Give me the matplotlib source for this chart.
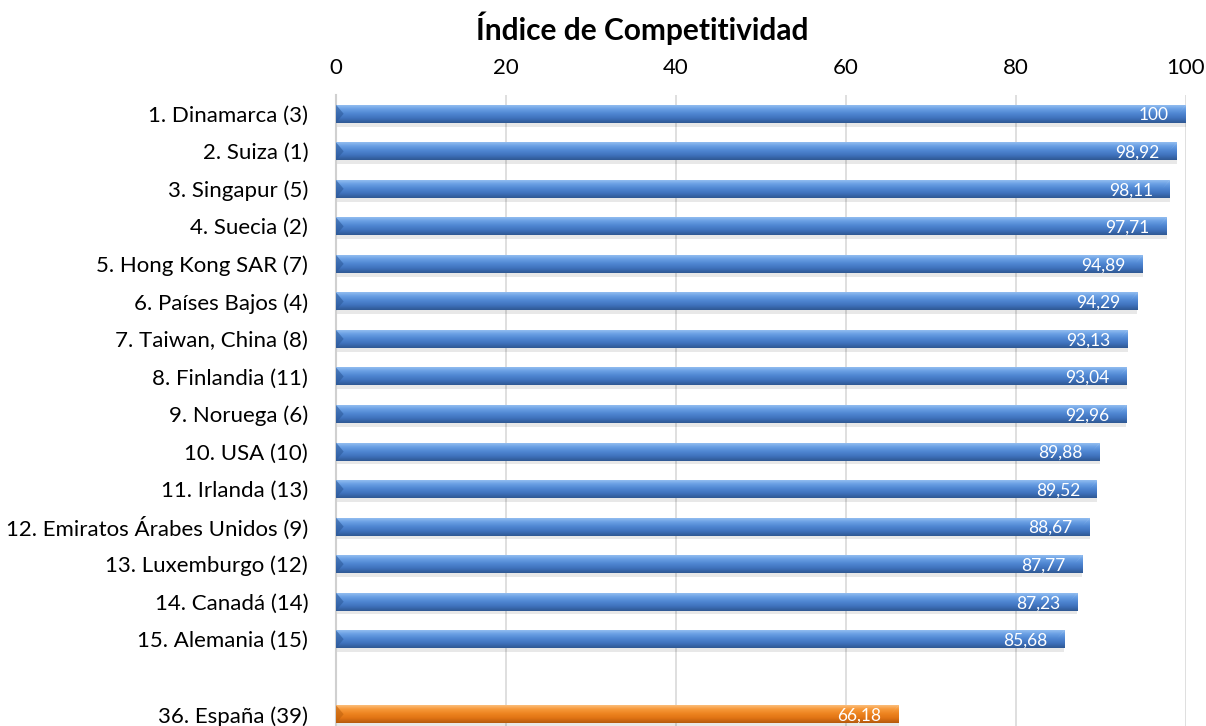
import numpy as np
import matplotlib
matplotlib.use("Agg")
from matplotlib import pyplot as plt
from matplotlib.colors import LinearSegmentedColormap

plt.rcParams['font.family'] = ['Lato', 'DejaVu Sans']

countries = ["1. Dinamarca (3)", "2. Suiza (1)", "3. Singapur (5)", "4. Suecia (2)",
             "5. Hong Kong SAR (7)", "6. Países Bajos (4)", "7. Taiwan, China (8)",
             "8. Finlandia (11)", "9. Noruega (6)", "10. USA (10)", "11. Irlanda (13)",
             "12. Emiratos Árabes Unidos (9)", "13. Luxemburgo (12)", "14. Canadá (14)",
             "15. Alemania (15)", "36. España (39)"]
scores = [100, 98.92, 98.11, 97.71, 94.89, 94.29, 93.13, 93.04, 92.96, 89.88,
          89.52, 88.67, 87.77, 87.23, 85.68, 66.18]
highlight = "36. España (39)"

# one empty slot before the highlighted country
slots = list(range(len(countries) - 1)) + [len(countries)]

blue = LinearSegmentedColormap.from_list("b", ["#9cc4f2", "#6aa0e4", "#4f86d2", "#3f72bc", "#2f5893"])
orange = LinearSegmentedColormap.from_list("o", ["#fcc68a", "#f79a3c", "#ee8420", "#e07314", "#b45a0c"])

fig = plt.figure(figsize=(12.06, 7.26), dpi=100)
ax = fig.add_axes([336 / 1206, -7 / 726, 850 / 1206, 638 / 726])

h = 0.48
grad = np.linspace(0, 1, 64).reshape(-1, 1)
for name, val, y in zip(countries, scores, slots):
    cmap = orange if name == highlight else blue
    # soft shadow under the bar
    ax.barh(y + 0.1, val, height=h, color="#000000", alpha=0.09, zorder=2, linewidth=0)
    bar = ax.barh(y, val, height=h, color="none", zorder=3, linewidth=0)[0]
    im = ax.imshow(grad, cmap=cmap, aspect="auto", extent=(0, val, y + h / 2, y - h / 2),
                   zorder=3, interpolation="bilinear")
    im.set_clip_path(bar)
    # bevel ends
    ax.fill([0, 0.9, 0], [y - h / 2, y, y + h / 2], color="#2d5a9a" if cmap is blue else "#c0620e",
            alpha=0.6, zorder=4, linewidth=0)
    ax.fill([val, val - 0.9, val], [y - h / 2, y, y - h / 2 + 0.01],
            color="#c8ddf7" if cmap is blue else "#fcd9b0", alpha=0.6, zorder=4, linewidth=0)
    ax.text(val - 2.0, y + 0.04, f"{val:g}".replace('.', ','), color="white",
            ha="right", va="center", fontsize=12.5, zorder=5)

ax.set_xlim(0, 100)
ax.set_ylim(len(countries) + 0.5, -0.5)
ax.set_xticks(range(0, 101, 20))
ax.xaxis.tick_top()
ax.tick_params(axis="x", length=0, labelsize=16, pad=12, colors="#000000")
ax.set_yticks(slots)
ax.set_yticklabels(countries)
ax.tick_params(axis="y", length=0, labelsize=16, pad=20)
ax.grid(axis="x", color="#d9d9d9", linewidth=1.2, zorder=0)
ax.set_axisbelow(True)
for s in ["top", "right", "bottom"]:
    ax.spines[s].set_visible(False)
ax.spines["left"].set_color("#d0d0d0")
ax.spines["left"].set_linewidth(1.5)

fig.text(642 / 1206, 1 - 28 / 726, "Índice de Competitividad", ha="center", va="center",
         fontsize=21.5, fontweight="bold")

fig.savefig("out.png", dpi=100)
